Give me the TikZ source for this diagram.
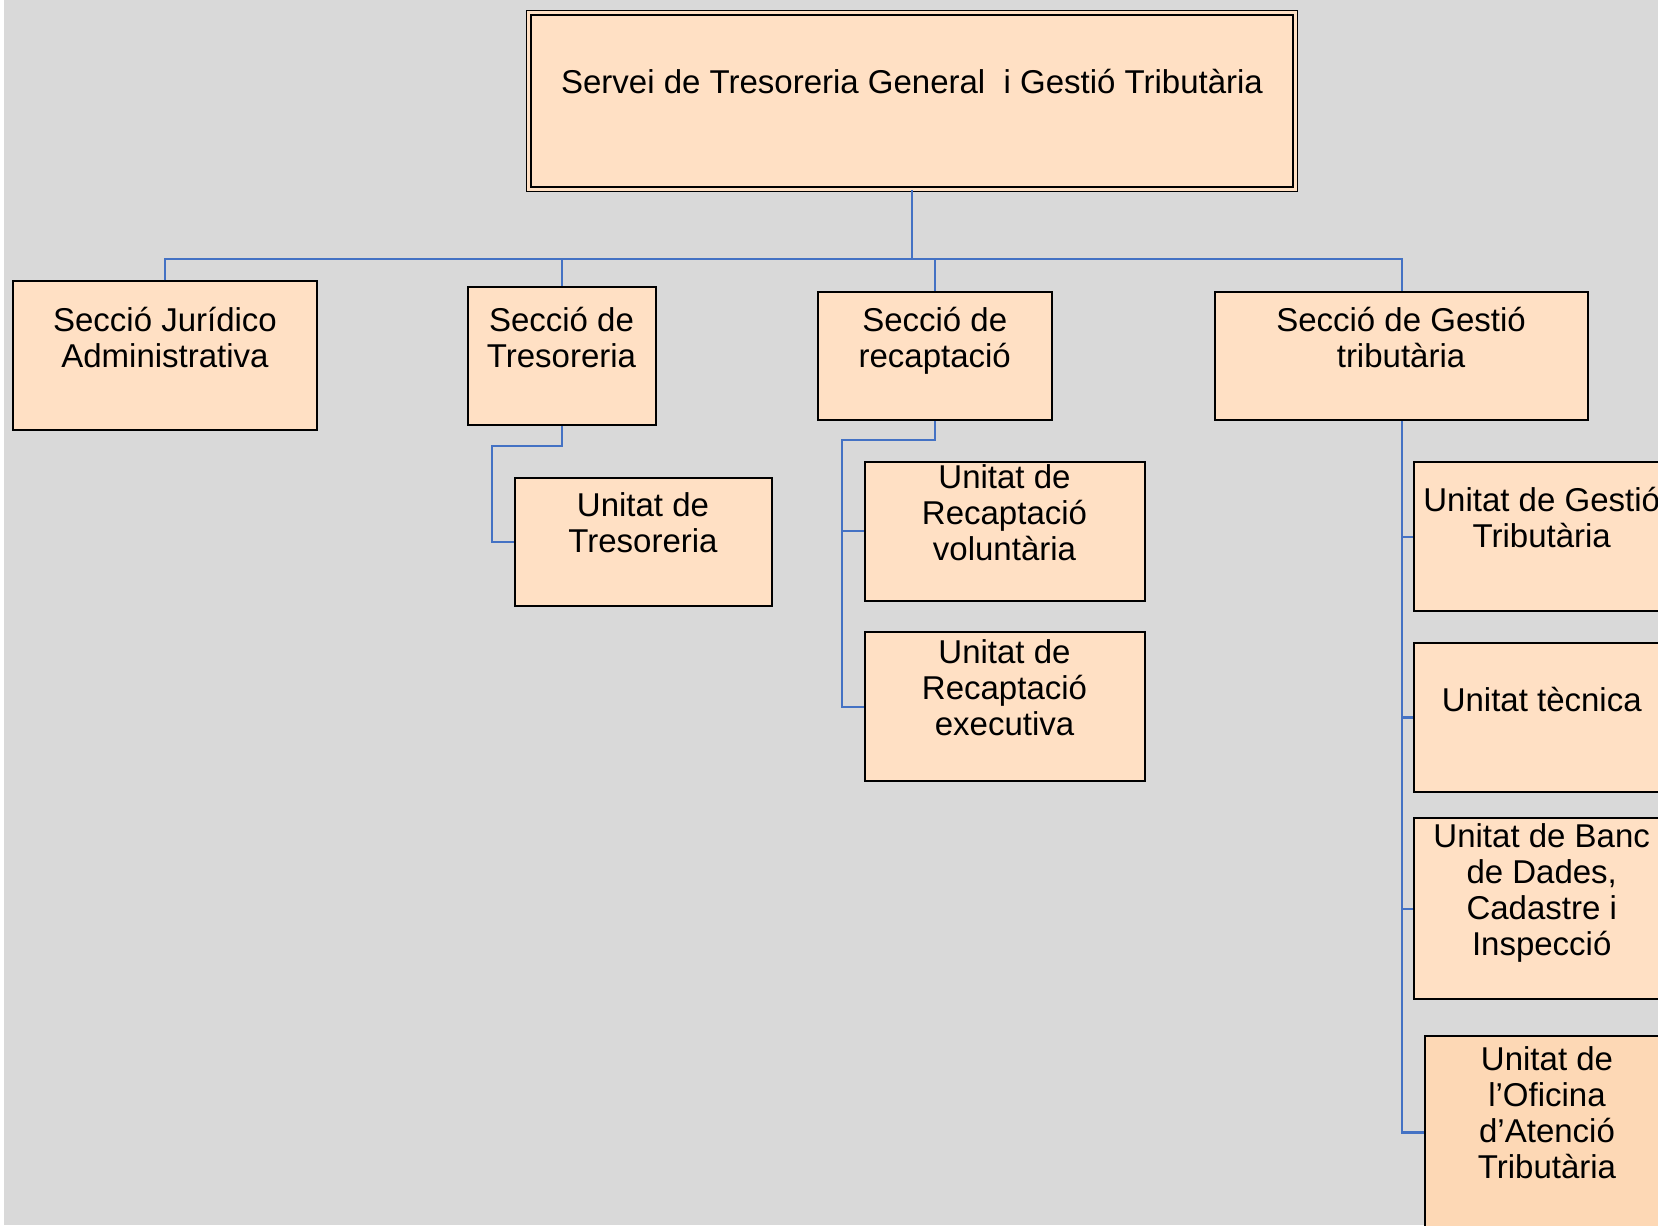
\documentclass[tikz,border=0pt]{standalone}
\usepackage{fontspec}
\setmainfont{Liberation Sans}
\usetikzlibrary{fit}
\definecolor{bg}{HTML}{D9D9D9}
\definecolor{peach}{HTML}{FFE0C4}
\definecolor{peachdark}{HTML}{FDD8B5}
\definecolor{connblue}{HTML}{4472C4}
\begin{document}
\begin{tikzpicture}[x=0.5pt,y=-0.5pt,
  box/.style={draw=black, line width=1pt, fill=peach, inner sep=0pt},
  topbox/.style={draw=black, line width=0.8pt, double=peach, double distance=1.5pt, fill=peach, inner sep=0pt},
  txt/.style={anchor=north, inner sep=0pt, align=center, font=\fontsize{16.5}{18}\selectfont, execute at begin node=\strut},
  conn/.style={draw=connblue, line width=1.1pt}]
\useasboundingbox (0,0) rectangle (1658,1225);
\clip (0,0) rectangle (1658,1225);
\fill[white] (0,0) rectangle (1658,1225);
\fill[bg] (4,0) rectangle (1658,1225);

% boxes
\node[topbox, fit={(528.9,12.9) (1295.1,189.1)}] (top) {};
\node[box, fit={(12.7,281.3) (317.2,430.4)}] (jur) {};
\node[box, fit={(468.4,286.6) (655.6,425.1)}] (tres) {};
\node[box, fit={(515,478) (772,606)}] (utres) {};
\node[box, fit={(818.4,291.8) (1052.1,419.8)}] (recap) {};
\node[box, fit={(865,462.1) (1145.2,600.6)}] (vol) {};
\node[box, fit={(865,632.3) (1145.2,781.4)}] (exe) {};
\node[box, fit={(1215,291.8) (1588.2,419.8)}] (gest) {};
\node[box, fit={(1413.8,462.1) (1669.6,611.2)}] (ugest) {};
\node[box, fit={(1413.8,642.9) (1669.6,792)}] (tec) {};
\node[box, fit={(1413.8,818.4) (1669.6,999.2)}] (banc) {};
\node[box, fill=peachdark, fit={(1425.4,1036.2) (1668.6,1228.8)}] (ofi) {};

% texts
\node[txt] (top-t) at (912,68) {Servei de Tresoreria General\ \ i Gestió Tributària};
\node[txt] (jur-t) at (165,306.4) {Secció Jurídico\\Administrativa};
\node[txt] (tres-t) at (561.5,306.4) {Secció de\\Tresoreria};
\node[txt] (utres-t) at (643,492.5) {Unitat de\\Tresoreria};
\node[txt] (recap-t) at (934.7,306.4) {Secció de\\recaptació};
\node[txt] (vol-t) at (1004.5,463.9) {Unitat de\\Recaptació\\voluntària};
\node[txt] (exe-t) at (1004.5,639.5) {Unitat de\\Recaptació\\executiva};
\node[txt] (gest-t) at (1401,306.4) {Secció de Gestió\\tributària};
\node[txt] (ugest-t) at (1541.7,487.2) {Unitat de Gestió\\Tributària};
\node[txt] (tec-t) at (1541.7,686) {Unitat tècnica};
\node[txt] (banc-t) at (1541.7,823.4) {Unitat de Banc\\de Dades,\\Cadastre i\\Inspecció};
\node[txt] (ofi-t) at (1547,1046.6) {Unitat de\\l’Oficina\\d’Atenció\\Tributària};

% connectors
\coordinate (bus) at (0,259);
\draw[conn] (top.south) -- (top.south |- bus);
\draw[conn] (jur.north) -- (jur.north |- bus) -- (gest.north |- bus) -- (gest.north);
\draw[conn] (tres.north) -- (tres.north |- bus);
\draw[conn] (recap.north) -- (recap.north |- bus);

\coordinate (tresbend) at (491.7,446);
\draw[conn] (tres.south) |- (tresbend) |- (utres.west);

\coordinate (recapbend) at (841.7,440);
\draw[conn] (recap.south) |- (recapbend) |- (exe.west);
\draw[conn] (recapbend |- vol.west) -- (vol.west);

\draw[conn] (gest.south) |- (ofi.west);
\draw[conn] (gest.south |- ugest.west) -- (ugest.west);
\draw[conn] (gest.south |- tec.west) -- (tec.west);
\draw[conn] (gest.south |- banc.west) -- (banc.west);
\end{tikzpicture}
\end{document}
